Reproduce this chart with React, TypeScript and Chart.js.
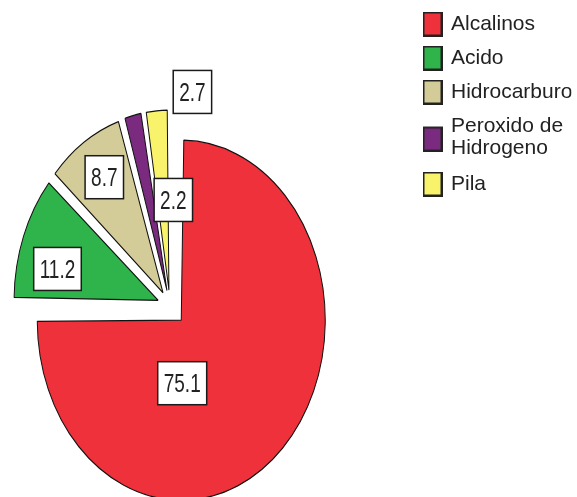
import { useEffect, useRef } from 'react';
import { Chart, registerables } from 'chart.js';

Chart.register(...registerables);

// ---- data ----
const categories: (string | string[])[] = ['Alcalinos', 'Acido', 'Hidrocarburo', ['Peroxido de', 'Hidrogeno'], 'Pila'];
const percentages = [75.1, 11.2, 8.7, 2.2, 2.7];
const valueLabels = ['75.1', '11.2', '8.7', '2.2', '2.7'];

// ---- styles ----
const sliceColors = ['#EF313B', '#2FB44B', '#D3CC98', '#7A2A7F', '#F8F36B'];
const explodeOffsets = [64, 51, 51, 51, 51];
const labelAngleShift = [43.6, -6.8, 0.9, 18.7, 13.3];
const labelRadius = [0.35, 0.72, 0.76, 0.505, 1.113];
const PIE_RADIUS = 144;
const Y_SCALE = 1.25;
const FONT = "'Liberation Sans', Arial, sans-serif";
const LEGEND_FONT_SIZE = 21;
const LEGEND_LINE_HEIGHT = 22.5;

// legend marker: a square with a dark border, centred on the item's text block
function makeMarker(color: string, lines: number): HTMLCanvasElement {
  const w = 20;
  const h = 25;
  const extra = (lines - 1) * LEGEND_LINE_HEIGHT * 0.58;
  const c = document.createElement('canvas');
  c.width = w;
  c.height = Math.round(h + extra * 2);
  const g = c.getContext('2d')!;
  const top = c.height / 2 + extra - h / 2;
  g.fillStyle = color;
  g.fillRect(1, top + 1, w - 2, h - 2);
  g.strokeStyle = '#222222';
  g.lineWidth = 2;
  g.strokeRect(1, top + 1, w - 2, h - 2);
  return c;
}

// vertical stretch of the plot area, anchored at the chart area's top edge
const ellipsePlugin = {
  id: 'ellipsePie',
  afterDatasetUpdate(chart: any, args: any) {
    const meta = args.meta;
    meta.data.forEach((arc: any, i: number) => {
      const off = (explodeOffsets[i] || 0) / 4;
      const fix = 1 - Math.sin(Math.min(Math.PI, arc.circumference || 0));
      arc.outerRadius = PIE_RADIUS - off * fix;
    });
  },
  beforeDatasetDraw(chart: any) {
    const ctx = chart.ctx;
    const pivot = chart.chartArea.top;
    ctx.save();
    ctx.translate(0, pivot);
    ctx.scale(1, Y_SCALE);
    ctx.translate(0, -pivot);
  },
  afterDatasetDraw(chart: any) {
    chart.ctx.restore();
  },
  afterDatasetsDraw(chart: any) {
    const ctx = chart.ctx;
    const pivot = chart.chartArea.top;
    const meta = chart.getDatasetMeta(0);
    meta.data.forEach((arc: any, i: number) => {
      const { x, y, startAngle, endAngle } = arc;
      const mid = (startAngle + endAngle) / 2;
      const shift = (explodeOffsets[i] || 0) / 4;
      const ax = x + Math.cos(mid) * shift;
      const ay = y + Math.sin(mid) * shift;
      const a = mid + (labelAngleShift[i] * Math.PI) / 180;
      const r = labelRadius[i] * PIE_RADIUS;
      const px = ax + Math.cos(a) * r;
      const py = ay + Math.sin(a) * r;
      const sx = px;
      const sy = pivot + (py - pivot) * Y_SCALE;
      const text = valueLabels[i];
      ctx.save();
      ctx.font = `19px ${FONT}`;
      const tw = ctx.measureText(text).width;
      const bw = tw + 12;
      const bh = 43;
      ctx.fillStyle = '#ffffff';
      ctx.strokeStyle = '#1a1a1a';
      ctx.lineWidth = 1.5;
      ctx.fillRect(sx - bw / 2, sy - bh / 2, bw, bh);
      ctx.strokeRect(sx - bw / 2, sy - bh / 2, bw, bh);
      ctx.translate(sx, sy);
      ctx.scale(1, 1.35);
      ctx.fillStyle = '#222222';
      ctx.textAlign = 'center';
      ctx.textBaseline = 'alphabetic';
      ctx.fillText(text, 0, (0.716 * 19) / 2);
      ctx.restore();
    });
  },
};

export default function App() {
  const canvasRef = useRef<HTMLCanvasElement | null>(null);

  useEffect(() => {
    const canvas = canvasRef.current;
    if (!canvas) return;
    Chart.defaults.font.family = FONT;
    const markers = categories.map((cat, i) =>
      makeMarker(sliceColors[i], Array.isArray(cat) ? cat.length : 1)
    );
    const baseGen = (Chart as any).overrides.doughnut.plugins.legend.labels.generateLabels;
    const chart = new Chart(canvas, {
      type: 'pie',
      data: {
        labels: categories as any,
        datasets: [
          {
            data: percentages,
            backgroundColor: sliceColors,
            borderColor: '#111111',
            borderWidth: 1,
            offset: explodeOffsets,
            hoverOffset: 0,
            radius: PIE_RADIUS,
            clip: false,
          } as any,
        ],
      },
      options: {
        responsive: false,
        animation: false,
        layout: { padding: { left: 0, right: 5.5, top: 0.5, bottom: 7.7 } },
        plugins: {
          tooltip: { enabled: false },
          // empty spacer box between the pie and the legend
          title: {
            display: true,
            text: ' ',
            position: 'right',
            font: { size: 1, lineHeight: 1.2 },
            padding: { top: 35.15, bottom: 35.15 },
          },
          legend: {
            position: 'right',
            align: 'start',
            weight: 3000,
            maxWidth: 160,
            labels: {
              usePointStyle: true,
              pointStyleWidth: 16,
              boxWidth: 20,
              boxHeight: 25,
              padding: 13,
              color: '#222222',
              font: { family: FONT, size: LEGEND_FONT_SIZE, lineHeight: LEGEND_LINE_HEIGHT / LEGEND_FONT_SIZE },
              generateLabels(c: any) {
                return baseGen(c).map((it: any, i: number) => ({ ...it, pointStyle: markers[i] }));
              },
            },
          },
        },
      } as any,
      plugins: [ellipsePlugin as any],
    });
    return () => chart.destroy();
  }, []);

  return (
    <div style={{ position: 'absolute', left: 0, top: 0, width: 577, height: 497, background: '#ffffff' }}>
      <canvas ref={canvasRef} width={577} height={497} style={{ display: 'block', width: 577, height: 497 }} />
    </div>
  );
}
